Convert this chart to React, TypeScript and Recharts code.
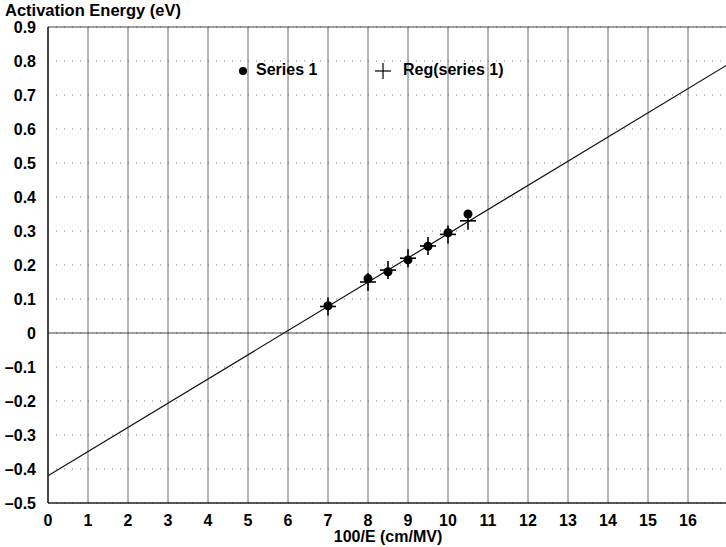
import React from 'react';
import { ComposedChart, Line, Scatter, XAxis, YAxis, CartesianGrid, ReferenceLine } from 'recharts';

const series1X = [7, 8, 8.5, 9, 9.5, 10, 10.5];
const series1Y = [0.08, 0.16, 0.18, 0.215, 0.255, 0.295, 0.35];
const regY = [0.078, 0.15, 0.185, 0.22, 0.256, 0.29, 0.33];
const regLineX = [0, 17];
const regLineY = [-0.42, 0.79];
const xTicks = [0, 1, 2, 3, 4, 5, 6, 7, 8, 9, 10, 11, 12, 13, 14, 15, 16, 17];
const yTicks = [-0.5, -0.4, -0.3, -0.2, -0.1, 0, 0.1, 0.2, 0.3, 0.4, 0.5, 0.6, 0.7, 0.8, 0.9];

const series1Data = series1X.map((x, i) => ({ x, y: series1Y[i] }));
const regData = series1X.map((x, i) => ({ x, y: regY[i] }));
const regLineData = regLineX.map((x, i) => ({ x, y: regLineY[i] }));

const FONT = '"Liberation Sans", Arial, sans-serif';

const PlusShape = (props: any) => {
  const { cx, cy } = props;
  return (
    <g>
      <line x1={cx - 8} y1={cy} x2={cx + 8} y2={cy} stroke="#000" strokeWidth={1.6} />
      <line x1={cx} y1={cy - 9} x2={cx} y2={cy + 9} stroke="#000" strokeWidth={1.6} />
    </g>
  );
};

const DotShape = (props: any) => {
  const { cx, cy } = props;
  return <circle cx={cx} cy={cy} r={4.5} fill="#000" />;
};

const fmtY = (v: number) => {
  if (Math.abs(v) < 1e-9) return '0';
  const s = Math.abs(v).toFixed(1);
  return v < 0 ? '\u2013' + s : s;
};

const tickStyle = { fontFamily: FONT, fontWeight: 'bold', fontSize: 16, fill: '#000' };

export default function App() {
  return (
    <div style={{ position: 'absolute', left: 0, top: 0, width: 726, height: 547, overflow: 'hidden', background: '#fff' }}>
      <ComposedChart
        width={728}
        height={547}
        margin={{ top: 27, right: 0, bottom: 0, left: 0 }}
      >
        <CartesianGrid horizontal={false} stroke="#6a6a6a" strokeWidth={1} verticalValues={xTicks} />
        <CartesianGrid vertical={false} stroke="#777" strokeDasharray="1 7" horizontalValues={yTicks} />
        <XAxis
          type="number"
          dataKey="x"
          domain={[0, 17]}
          ticks={xTicks}
          interval={0}
          tickFormatter={(v: number) => (v === 17 ? '' : String(v))}
          axisLine={{ stroke: '#222', strokeWidth: 1.5 }}
          tickLine={false}
          tickMargin={6}
          height={44}
          tick={tickStyle}
          label={{ value: '100/E (cm/MV)', position: 'insideBottom', offset: 5, style: tickStyle }}
        />
        <YAxis
          type="number"
          dataKey="y"
          domain={[-0.5, 0.9]}
          ticks={yTicks}
          interval={0}
          width={48}
          tickFormatter={fmtY}
          axisLine={{ stroke: '#222', strokeWidth: 1.5 }}
          tickLine={false}
          tickMargin={6}
          tick={tickStyle}
        />
        <ReferenceLine y={0.9} stroke="#444" strokeWidth={1.2} />
        <ReferenceLine y={0} stroke="#444" strokeWidth={1.2} />
        <Line data={regLineData} dataKey="y" stroke="#111" strokeWidth={1.2} dot={false} isAnimationActive={false} />
        <Scatter data={series1Data} dataKey="y" shape={DotShape} isAnimationActive={false} />
        <Scatter data={regData} dataKey="y" shape={PlusShape} isAnimationActive={false} />
      </ComposedChart>
      <div style={{ position: 'absolute', left: 5, top: 1, fontFamily: FONT, fontWeight: 'bold', fontSize: 16.5, color: '#000', whiteSpace: 'nowrap' }}>
        Activation Energy (eV)
      </div>
      <div style={{ position: 'absolute', left: 238, top: 61, fontFamily: FONT, fontWeight: 'bold', fontSize: 16, color: '#000', width: 320, height: 22 }}>
        <svg width={12} height={12} style={{ position: 'absolute', left: 0, top: 4 }}>
          <circle cx={5} cy={6} r={4} fill="#000" />
        </svg>
        <span style={{ position: 'absolute', left: 18, top: 0, whiteSpace: 'nowrap' }}>Series 1</span>
        <svg width={20} height={20} style={{ position: 'absolute', left: 135, top: 0 }}>
          <line x1={2} y1={10} x2={18} y2={10} stroke="#000" strokeWidth={1.2} />
          <line x1={10} y1={2} x2={10} y2={18} stroke="#000" strokeWidth={1.2} />
        </svg>
        <span style={{ position: 'absolute', left: 165, top: 0, whiteSpace: 'nowrap' }}>Reg(series 1)</span>
      </div>
    </div>
  );
}
